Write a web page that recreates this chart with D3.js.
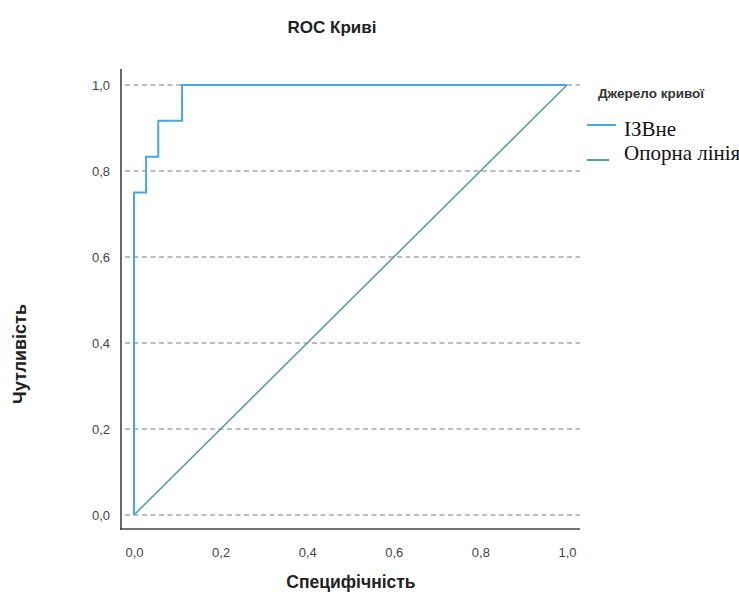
<!DOCTYPE html>
<html>
<head>
<meta charset="utf-8">
<script src="https://cdn.jsdelivr.net/npm/d3@7"></script>
<style>
  html, body { margin: 0; padding: 0; background: #fff; }
  svg { display: block; }
</style>
</head>
<body>
<svg id="chart" width="739" height="592"></svg>
<script>
// ROC curve: 1 - specificity (x) against sensitivity (y)
const rocFpr  = [0, 0, 0.028, 0.028, 0.056, 0.056, 0.111, 0.111, 1.0];
const rocTpr  = [0, 0.75, 0.75, 0.833, 0.833, 0.917, 0.917, 1.0, 1.0];
const refFpr  = [0, 1];
const refTpr  = [0, 1];
const tickValues = [0, 0.2, 0.4, 0.6, 0.8, 1.0];
const tickLabels = ["0,0", "0,2", "0,4", "0,6", "0,8", "1,0"];
const legendNames = ["ІЗВне", "Опорна лінія"];

const svg = d3.select("#chart");
const x = d3.scaleLinear().domain([0, 1]).range([134, 567]);
const y = d3.scaleLinear().domain([0, 1]).range([515, 85]);

const sans = "'Liberation Sans', Arial, sans-serif";
const blue = "#45a7e8";
const teal = "#5d9f9c";

// horizontal dashed grid
svg.append("g").selectAll("line").data(tickValues).join("line")
  .attr("x1", 125).attr("x2", 580)
  .attr("y1", d => y(d)).attr("y2", d => y(d))
  .attr("stroke", "#a8a8a8").attr("stroke-width", 1.6)
  .attr("stroke-dasharray", "5,3.5");

// axes
const yAxis = d3.axisLeft(y).tickValues(tickValues)
  .tickFormat((d, i) => tickLabels[i]).tickSize(0).tickPadding(11);
const gy = svg.append("g").attr("transform", "translate(121,0)").call(yAxis);
gy.select(".domain").remove();
gy.selectAll("text").attr("font-family", sans).attr("font-size", 13).attr("fill", "#444");

const xAxis = d3.axisBottom(x).tickValues(tickValues)
  .tickFormat((d, i) => tickLabels[i]).tickSize(0).tickPadding(19);
const gx = svg.append("g").attr("transform", "translate(0,529)").call(xAxis);
gx.select(".domain").remove();
gx.selectAll("text").attr("font-family", sans).attr("font-size", 13).attr("fill", "#444");

// axis frame
svg.append("line").attr("x1", 121).attr("x2", 121).attr("y1", 69).attr("y2", 530)
  .attr("stroke", "#444").attr("stroke-width", 1.6);
svg.append("line").attr("x1", 120).attr("x2", 580).attr("y1", 529).attr("y2", 529)
  .attr("stroke", "#444").attr("stroke-width", 1.6);

// reference diagonal
const line = d3.line().x(d => x(d[0])).y(d => y(d[1]));
svg.append("path").datum(d3.zip(refFpr, refTpr))
  .attr("d", line).attr("fill", "none")
  .attr("stroke", teal).attr("stroke-width", 1.6);

// ROC step curve
svg.append("path").datum(d3.zip(rocFpr, rocTpr))
  .attr("d", line).attr("fill", "none")
  .attr("stroke", blue).attr("stroke-width", 2);

// titles
svg.append("text").attr("x", 332).attr("y", 33).attr("text-anchor", "middle")
  .attr("font-family", sans).attr("font-weight", "bold").attr("font-size", 17)
  .attr("fill", "#222").text("ROC Криві");
svg.append("text").attr("x", 351).attr("y", 588).attr("text-anchor", "middle")
  .attr("font-family", sans).attr("font-weight", "bold").attr("font-size", 17.5)
  .attr("fill", "#222").text("Специфічність");
svg.append("text").attr("transform", "translate(26,354) rotate(-90)")
  .attr("text-anchor", "middle")
  .attr("font-family", sans).attr("font-weight", "bold").attr("font-size", 18)
  .attr("fill", "#222").text("Чутливість");

// legend
svg.append("text").attr("x", 598).attr("y", 98)
  .attr("font-family", sans).attr("font-weight", "bold").attr("font-size", 13.5)
  .attr("fill", "#333").text("Джерело кривої");
const legendColors = [blue, teal];
const legendY = [125, 160];
const legendLen = [29, 22];
const lg = svg.append("g").selectAll("g").data(legendNames).join("g");
lg.append("line")
  .attr("x1", 587).attr("x2", (d, i) => 587 + legendLen[i])
  .attr("y1", (d, i) => legendY[i]).attr("y2", (d, i) => legendY[i])
  .attr("stroke", (d, i) => legendColors[i]).attr("stroke-width", 2);
lg.append("text")
  .attr("x", 624).attr("y", (d, i) => [136, 160][i])
  .attr("font-family", "'Liberation Serif', 'Times New Roman', serif")
  .attr("font-size", 21).attr("fill", "#111").text(d => d);
</script>
</body>
</html>
